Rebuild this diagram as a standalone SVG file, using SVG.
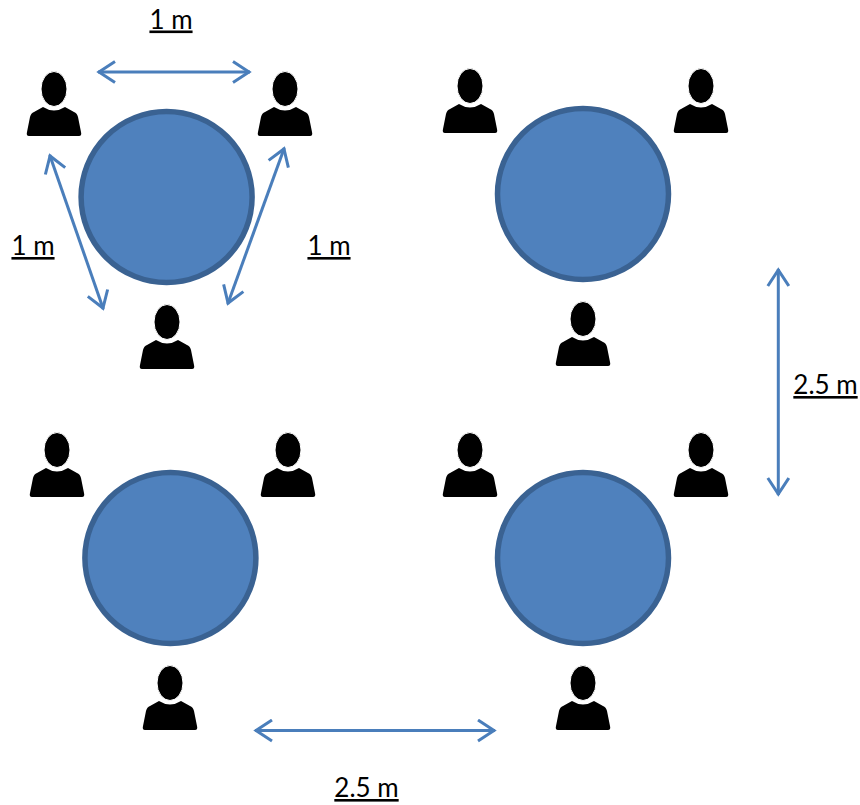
<svg xmlns="http://www.w3.org/2000/svg" width="860" height="805" viewBox="0 0 860 805">
<style>
.table{fill:#4f81bd;stroke:#3a6292;stroke-width:5.5}
.arrow{fill:none;stroke:#4a7ebb;stroke-width:3;marker-start:url(#head);marker-end:url(#head)}
.label{font-family:"Lato","Liberation Sans",sans-serif;font-size:26px;fill:#000;text-anchor:middle;text-decoration:underline}
</style>
<defs>
<marker id="head" viewBox="-20 -12 24 24" refX="0" refY="0" markerWidth="24" markerHeight="24" markerUnits="userSpaceOnUse" orient="auto-start-reverse">
<path d="M-17,-10.5 L-1,0 L-17,10.5" fill="none" stroke="#4a7ebb" stroke-width="3"/>
</marker>
<symbol id="person" overflow="visible">
<path d="M-11,35 L-20,40 Q-23,41 -24,45 L-27,60 Q-28,64 -25,64 L25,64 Q28,64 27,60 L24,45 Q23,41 20,40 L11,35 Q0,42 -11,35 Z" fill="#000"/>
<ellipse cx="0" cy="17" rx="13" ry="17.5" fill="#000" stroke="#fff" stroke-width="1"/>
</symbol>
</defs>
<g id="table-1"><circle class="table" cx="166.6" cy="197" r="85.5"/></g>
<g id="table-2"><circle class="table" cx="583" cy="194" r="85.5"/></g>
<g id="table-3"><circle class="table" cx="170.4" cy="558" r="85.5"/></g>
<g id="table-4"><circle class="table" cx="583" cy="558" r="85.5"/></g>
<g id="person-1a"><use href="#person" x="54" y="72"/></g>
<g id="person-1b"><use href="#person" x="285" y="72"/></g>
<g id="person-1c"><use href="#person" x="167" y="305"/></g>
<g id="person-2a"><use href="#person" x="470" y="69"/></g>
<g id="person-2b"><use href="#person" x="701" y="69"/></g>
<g id="person-2c"><use href="#person" x="583" y="302"/></g>
<g id="person-3a"><use href="#person" x="57" y="433"/></g>
<g id="person-3b"><use href="#person" x="288" y="433"/></g>
<g id="person-3c"><use href="#person" x="170" y="666"/></g>
<g id="person-4a"><use href="#person" x="470" y="433"/></g>
<g id="person-4b"><use href="#person" x="701" y="433"/></g>
<g id="person-4c"><use href="#person" x="583" y="666"/></g>
<g id="connectors">
<line class="arrow" x1="98" y1="72" x2="250" y2="72"/>
<line class="arrow" x1="49.7" y1="155" x2="103.3" y2="309"/>
<line class="arrow" x1="284.3" y1="148" x2="227.7" y2="304"/>
<line class="arrow" x1="778.3" y1="269" x2="778.3" y2="495"/>
<line class="arrow" x1="255" y1="730.5" x2="495" y2="730.5"/>
</g>
<g id="labels">
<text class="label" x="171" y="28.5">1 m</text>
<text class="label" x="33" y="255">1 m</text>
<text class="label" x="329" y="255">1 m</text>
<text class="label" x="825.5" y="394">2.5 m</text>
<text class="label" x="366.5" y="797">2.5 m</text>
</g>
</svg>
